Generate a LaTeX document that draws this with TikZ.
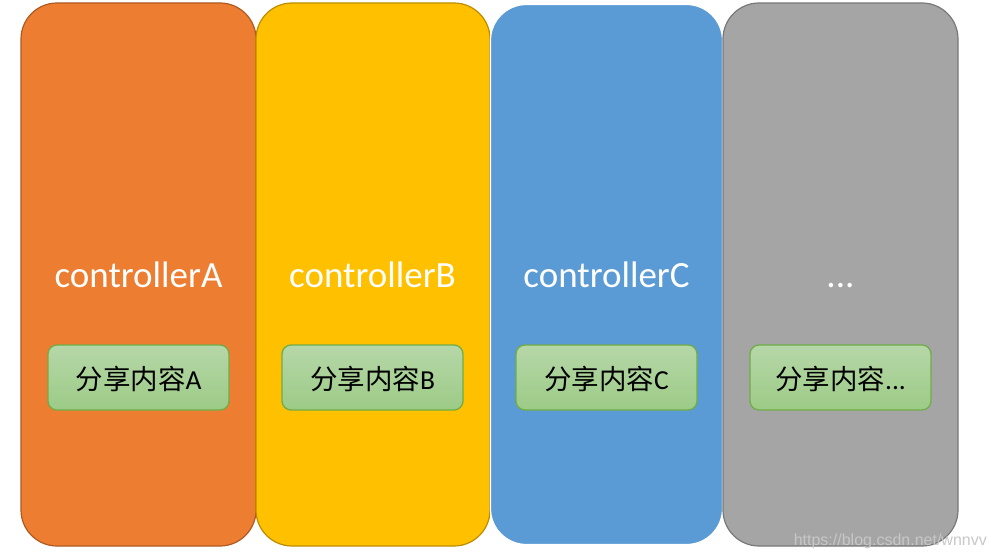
\documentclass[tikz,border=0pt]{standalone}
\usepackage{fontspec}
\setmainfont{Carlito}
\newfontfamily\cjk{Noto Sans CJK SC}
\newfontfamily\wmfont{Liberation Sans}
\definecolor{corange}{HTML}{ED7D31}
\definecolor{corangeB}{HTML}{AE5A21}
\definecolor{cyellow}{HTML}{FFC000}
\definecolor{cyellowB}{HTML}{BC8C00}
\definecolor{cblue}{HTML}{5B9BD5}
\definecolor{cgray}{HTML}{A5A5A5}
\definecolor{cgrayB}{HTML}{787878}
\definecolor{gtop}{HTML}{B6D7A8}
\definecolor{gbot}{HTML}{9CCB86}
\definecolor{gborder}{HTML}{70AD47}
\tikzset{
  ctrl/.style={rounded corners=36pt, line width=1.2pt, minimum width=235pt, minimum height=543pt, inner sep=0pt},
  share/.style={rounded corners=9pt, draw=gborder, line width=1.3pt, top color=gtop, bottom color=gbot,
    minimum width=181pt, minimum height=65pt, inner sep=0pt},
  ctitle/.style={text=white, font=\fontsize{37}{41}\selectfont, anchor=base},
  stext/.style={text=black, font=\fontsize{27.5}{31}\selectfont, anchor=base},
}
\begin{document}
\begin{tikzpicture}[x=1pt,y=1pt]
\useasboundingbox (0,0) rectangle (996,558);
\node[ctrl, fill=corange, draw=corangeB] (A) at (138.5,283.5) {};
\node[ctrl, fill=cyellow, draw=cyellowB, minimum width=234pt] (B) at (373,283.5) {};
\node[ctrl, fill=cblue, draw=white, minimum width=232pt, minimum height=540pt] (C) at (606.5,283.5) {};
\node[ctrl, fill=cgray, draw=cgrayB] (D) at (840.5,283.5) {};
\node[ctitle] (tA) at (138.5,271) {controllerA};
\node[ctitle] (tB) at (372.5,271) {controllerB};
\node[ctitle] (tC) at (606.5,271) {controllerC};
\node[ctitle] (tD) at (840.5,271) {...};
\node[share] (sA) at (138.5,180.5) {};
\node[share] (sB) at (372.5,180.5) {};
\node[share] (sC) at (606.5,180.5) {};
\node[share] (sD) at (840.5,180.5) {};
\node[stext] (lA) at (138.5,169) {{\cjk 分享内容}A};
\node[stext] (lB) at (372.5,169) {{\cjk 分享内容}B};
\node[stext] (lC) at (606.5,169) {{\cjk 分享内容}C};
\node[stext] (lD) at (840.5,169) {{\cjk 分享内容}...};
\node[anchor=base east, text=black!22, font=\wmfont\fontsize{16}{18}\selectfont, inner sep=0pt] (wm) at (987,13) {https://blog.csdn.net/wnnvv};
\end{tikzpicture}
\end{document}
